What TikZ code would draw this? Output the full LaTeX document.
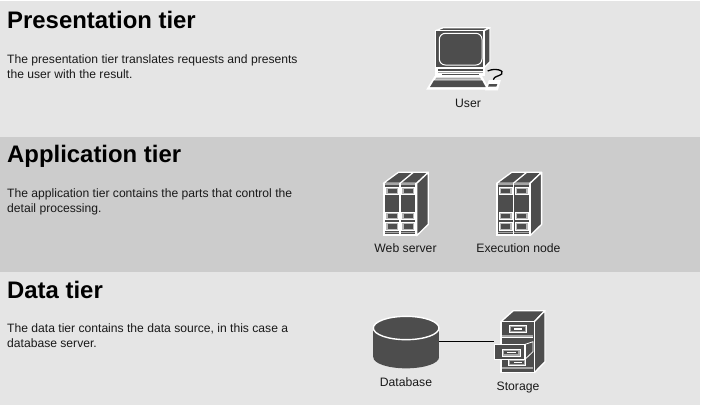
\documentclass[tikz,border=0pt]{standalone}
\usepackage{fontspec}
\setmainfont{Liberation Sans}
\definecolor{bandlight}{HTML}{E5E5E5}
\definecolor{banddark}{HTML}{CCCCCC}
\definecolor{icondark}{HTML}{4D4D4D}
\definecolor{iconmid}{HTML}{A6A6A6}
\definecolor{baylight}{HTML}{B8B8B8}
\tikzset{
  x=1pt,y=-1pt,
  band/.style={fill=#1,draw=none},
  heading/.style={anchor=base west,inner sep=0pt,font=\fontsize{23.9}{24}\selectfont\bfseries,text=black},
  body/.style={anchor=base west,inner sep=0pt,align=left,font=\fontsize{12.12}{15}\selectfont,text=black!90},
  iconlabel/.style={inner sep=0pt,anchor=base,font=\fontsize{12.2}{14}\selectfont,text=black!90},
  holder/.style={inner sep=0pt,draw=none,fill=none},
  ic/.style={fill=icondark,draw=white,line width=1.3pt,line join=round},
  icthin/.style={fill=icondark,draw=white,line width=.8pt,line join=round},
  slot/.style={fill=icondark,draw=none},
  serverpic/.pic={
    \begin{scope}[scale=1/3]
      \filldraw[ic] (40,55) -- (85,22) -- (175,22) -- (140,55) -- cycle;
      \draw[white,line width=1.3pt] (90,55) -- (130,22);
      \filldraw[ic] (140,55) -- (175,22) -- (175,178) -- (140,212) -- cycle;
      \filldraw[fill=white,draw=white,line width=1.3pt] (40,55) rectangle (140,212);
      \foreach \cx in {45,93}{
        \fill[icondark] (\cx,59) rectangle ++(43,149);
        \fill[iconmid] (\cx,54) rectangle ++(43,5);
        \filldraw[fill=baylight,draw=white,line width=.9pt] (\cx+2,66) rectangle ++(39,22);
        \fill[slot] (\cx+8,71) rectangle ++(27,12);
        \filldraw[fill=baylight,draw=white,line width=.9pt] (\cx+2,141) rectangle ++(39,22);
        \fill[slot] (\cx+8,146) rectangle ++(27,12);
        \filldraw[fill=baylight,draw=white,line width=.9pt] (\cx+2,173) rectangle ++(39,23);
        \fill[slot] (\cx+8,178) rectangle ++(27,13);
        \fill[iconmid] (\cx,200) rectangle ++(43,4);
      }
    \end{scope}
  },
  computerpic/.pic={
    \begin{scope}[scale=1/3]
      \filldraw[ic] (47,47) -- (70,38) -- (210,38) -- (192,47) -- cycle;
      \filldraw[ic] (192,47) -- (210,38) -- (210,140) -- (192,158) -- cycle;
      \filldraw[ic] (47,47) rectangle (192,158);
      \filldraw[fill=icondark,draw=white,line width=1pt,rounded corners=6pt] (58,55) rectangle (186,150);
      \draw[black,line width=1.3pt] (203,168) .. controls (225,158) and (255,166) .. (245,177) .. controls (238,184) and (222,183) .. (220,194);
      \filldraw[fill=white,draw=white,line width=1.3pt] (48,160) rectangle (192,182);
      \fill[icondark] (54,163) rectangle (188,168);
      \fill[iconmid] (54,170) rectangle (188,174);
      \fill[icondark] (66,176) rectangle (178,180);
      \filldraw[fill=white,draw=white,line width=1.3pt] (22,222) -- (45,185) -- (185,185) -- (205,222) -- cycle;
      \fill[iconmid] (49,188) -- (180,188) -- (184,194) -- (45,194) -- cycle;
      \fill[icondark] (42,196) -- (186,196) -- (197,216) -- (30,216) -- cycle;
      \filldraw[fill=white,draw=white,line width=1.3pt] (198,224) -- (208,197) -- (240,197) -- (232,224) -- cycle;
      \fill[icondark] (207,207) -- (232,207) -- (229,215) -- (204,215) -- cycle;
    \end{scope}
  },
  cylinderpic/.pic={
    \begin{scope}[scale=1/3]
      \fill[icondark] (25,84) rectangle (222,172);
      \fill[icondark] (123.5,172) ellipse[x radius=98.5,y radius=33];
      \filldraw[fill=icondark,draw=white,line width=1.4pt] (123.5,84) ellipse[x radius=98.5,y radius=35];
    \end{scope}
  },
  cabinetpic/.pic={
    \begin{scope}[scale=1/3]
      \filldraw[ic] (408,65) -- (445,32) -- (540,32) -- (508,65) -- cycle;
      \filldraw[ic] (508,65) -- (540,32) -- (540,185) -- (508,218) -- cycle;
      \filldraw[ic] (408,65) rectangle (508,218);
      \fill[iconmid] (412,104) rectangle (504,110);
      \fill[white] (412,112) rectangle (504,115);
      \fill[iconmid] (412,200) rectangle (504,206);
      \filldraw[fill=iconmid,draw=white,line width=1pt] (432,75) rectangle (485,98);
      \fill[icondark] (438,80) rectangle (479,93);
      \fill[white] (447,84) rectangle (470,89);
      \filldraw[fill=iconmid,draw=white,line width=1pt] (430,178) rectangle (482,195);
      \fill[icondark] (436,183) rectangle (476,192);
      \fill[white] (447,185) rectangle (470,189);
      \filldraw[icthin] (480,133) -- (504,125) -- (504,155) -- (480,178) -- cycle;
      \filldraw[ic] (388,133) rectangle (480,178);
      \filldraw[fill=iconmid,draw=white,line width=1pt] (412,147) rectangle (465,168);
      \fill[icondark] (417,152) rectangle (460,163);
      \fill[white] (425,155) rectangle (452,160);
    \end{scope}
  }
}
\begin{document}
\begin{tikzpicture}
  \useasboundingbox (0,0) rectangle (702,410);
  \fill[white] (0,0) rectangle (702,410);
  \fill[band=bandlight] (0,1) rectangle (700,136.5);
  \fill[band=banddark] (0,136.5) rectangle (700,271.5);
  \fill[band=bandlight] (0,271.5) rectangle (700,405);

  \node[heading] (h1) at (7,28.5) {Presentation tier};
  \node[heading] (h2) at (7,162.5) {Application tier};
  \node[heading] (h3) at (7,298) {Data tier};
  \node[body] (t1) at (7,78) {The presentation tier translates requests and presents\\the user with the result.};
  \node[body] (t2) at (7,212) {The application tier contains the parts that control the\\detail processing.};
  \node[body] (t3) at (7,347) {The data tier contains the data source, in this case a\\database server.};

  \node[holder,minimum width=63pt,minimum height=52pt] (userIcon) at (468,57) {};
  \pic at (420,15) {computerpic};
  \pic at (370,165) {serverpic};
  \pic at (483.3,165) {serverpic};

  \node[holder,minimum width=65.7pt,minimum height=52pt] (database) at (406.2,341.3) {};
  \node[holder,minimum width=50.7pt,minimum height=62pt] (storage) at (519.65,341.3) {};
  \draw[black,line width=.9pt] (database.east) -- (storage.west);
  \pic at (365,300) {cylinderpic};
  \pic at (365,300) {cabinetpic};

  \node[iconlabel] (l1) at (468,107) {User};
  \node[iconlabel] (l2) at (405.5,252.5) {Web server};
  \node[iconlabel] (l3) at (518.5,252.5) {Execution node};
  \node[iconlabel] (l4) at (406,386) {Database};
  \node[iconlabel] (l5) at (518,390) {Storage};
\end{tikzpicture}
\end{document}
